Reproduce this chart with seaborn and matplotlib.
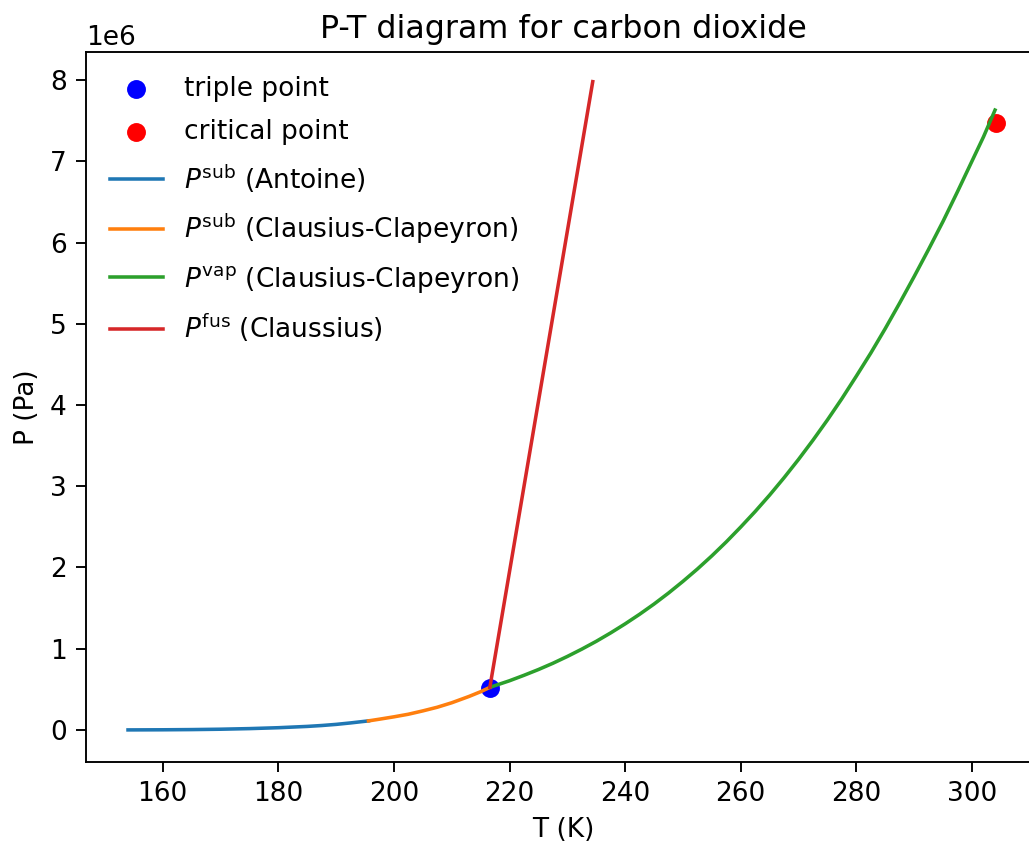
import numpy as np
import pandas as pd
import matplotlib
matplotlib.use("Agg")
import matplotlib.pyplot as plt
import seaborn as sns

# ---- data ----
T_triple = [216.6]
P_triple = [0.52e6]
T_crit = [304.2]
P_crit = [7.47e6]

T_sub_antoine = [154.0, 160.0, 165.0, 170.0, 175.0, 180.0, 185.0, 187.5,
                 190.0, 192.5, 195.6]
P_sub_antoine = [1.0e3, 2.5e3, 5.0e3, 9.5e3, 17e3, 28e3, 44e3, 55e3,
                 69e3, 87e3, 0.112e6]

T_sub_cc = [195.6, 197.5, 200.0, 202.5, 205.0, 207.5, 210.0, 213.0, 215.0,
            216.6]
P_sub_cc = [0.112e6, 0.133e6, 0.162e6, 0.194e6, 0.235e6, 0.28e6, 0.335e6,
            0.413e6, 0.471e6, 0.525e6]

T_vap = [216.6, 220, 222.5, 225, 227.5, 230, 232.5, 235, 237.5, 240, 242.5,
         245, 247.5, 250, 252.5, 255, 257.5, 260, 262.5, 265, 267.5, 270,
         272.5, 275, 277.5, 280, 282.5, 285, 287.5, 290, 292.5, 295, 297.5,
         300, 302, 304.0]
P_vap = [0.525e6, 0.606e6, 0.673e6, 0.744e6, 0.821e6, 0.905e6, 0.995e6,
         1.091e6, 1.195e6, 1.306e6, 1.424e6, 1.55e6, 1.685e6, 1.829e6,
         1.981e6, 2.143e6, 2.315e6, 2.498e6, 2.689e6, 2.891e6, 3.105e6,
         3.33e6, 3.567e6, 3.816e6, 4.078e6, 4.355e6, 4.639e6, 4.94e6,
         5.255e6, 5.58e6, 5.915e6, 6.26e6, 6.625e6, 7.0e6, 7.3e6, 7.63e6]

T_fus = [216.6, 234.4]
P_fus = [0.525e6, 7.98e6]

labels = ["triple point", "critical point",
          r"$P^{\mathrm{sub}}$ (Antoine)",
          r"$P^{\mathrm{sub}}$ (Clausius-Clapeyron)",
          r"$P^{\mathrm{vap}}$ (Clausius-Clapeyron)",
          r"$P^{\mathrm{fus}}$ (Claussius)"]

# ---- figure ----
plt.rcParams["font.size"] = 11.2
plt.rcParams["xtick.major.size"] = 4.2
plt.rcParams["ytick.major.size"] = 4.2
plt.rcParams["xtick.major.pad"] = 4.0
plt.rcParams["ytick.major.pad"] = 4.0

W, H, DPI = 1029, 845, 170
fig = plt.figure(figsize=(W / DPI, H / DPI), dpi=DPI)
ax = fig.add_axes([86 / W, 83 / H, (1040 - 86) / W, (762 - 52) / H])

sns.scatterplot(x=T_triple, y=P_triple, color="blue", s=64, linewidth=0,
                label=labels[0], ax=ax)
sns.scatterplot(x=T_crit, y=P_crit, color="red", s=64, linewidth=0,
                label=labels[1], ax=ax)
sns.lineplot(x=T_sub_antoine, y=P_sub_antoine, color="C0", lw=1.5,
             label=labels[2], ax=ax, sort=False)
sns.lineplot(x=T_sub_cc, y=P_sub_cc, color="C1", lw=1.5,
             label=labels[3], ax=ax, sort=False)
sns.lineplot(x=T_vap, y=P_vap, color="C2", lw=1.5,
             label=labels[4], ax=ax, sort=False)
sns.lineplot(x=T_fus, y=P_fus, color="C3", lw=1.5,
             label=labels[5], ax=ax, sort=False)

ax.set_xlim(146.73, 311.78)
ax.set_ylim(-0.394e6, 8.345e6)
ax.set_xticks([160, 180, 200, 220, 240, 260, 280, 300])
ax.set_title("P-T diagram for carbon dioxide")
ax.set_xlabel("T (K)")
ax.set_ylabel("P (Pa)")
ax.legend(loc="upper left", frameon=False, labelspacing=0.65)

fig.savefig("out.png", dpi=DPI)
